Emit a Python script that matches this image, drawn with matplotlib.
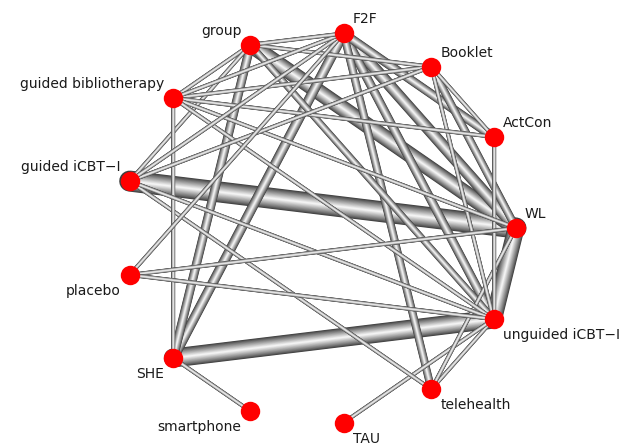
import numpy as np
import matplotlib
matplotlib.use('Agg')
import matplotlib.pyplot as plt

# trattamenti in ordine antiorario partendo da WL
treatments = ['WL', 'ActCon', 'Booklet', 'F2F', 'group', 'guided bibliotherapy',
              'guided iCBT\u2212I', 'placebo', 'SHE', 'smartphone', 'TAU',
              'telehealth', 'unguided iCBT\u2212I']

# confronti diretti: (trattamento 1, trattamento 2, spessore)
edge_from = ['guided iCBT\u2212I', 'SHE', 'WL', 'group', 'F2F', 'F2F', 'group',
             'F2F', 'F2F', 'Booklet', 'F2F', 'group',
             'F2F', 'F2F', 'F2F', 'F2F', 'group', 'group', 'group',
             'guided bibliotherapy', 'guided bibliotherapy', 'guided bibliotherapy',
             'guided bibliotherapy', 'guided bibliotherapy',
             'guided iCBT\u2212I', 'guided iCBT\u2212I', 'placebo', 'placebo',
             'ActCon', 'Booklet', 'Booklet', 'WL', 'unguided iCBT\u2212I',
             'unguided iCBT\u2212I', 'SHE', 'guided iCBT\u2212I']
edge_to = ['WL', 'unguided iCBT\u2212I', 'unguided iCBT\u2212I', 'WL', 'WL', 'SHE', 'SHE',
           'unguided iCBT\u2212I', 'ActCon', 'WL', 'telehealth', 'unguided iCBT\u2212I',
           'group', 'guided bibliotherapy', 'guided iCBT\u2212I', 'placebo',
           'guided bibliotherapy', 'guided iCBT\u2212I', 'Booklet',
           'Booklet', 'ActCon', 'WL', 'unguided iCBT\u2212I', 'SHE',
           'Booklet', 'unguided iCBT\u2212I', 'WL', 'unguided iCBT\u2212I',
           'unguided iCBT\u2212I', 'unguided iCBT\u2212I', 'ActCon', 'telehealth',
           'telehealth', 'TAU', 'smartphone', 'telehealth']
edge_w = [21, 19, 17, 16, 12, 10, 9,
          9, 9, 8, 8, 7,
          4, 4, 4, 4, 4, 4, 4,
          4, 4, 4, 4, 4,
          4, 4, 4, 4,
          4, 4, 4, 4, 4,
          4, 4, 4]

n = len(treatments)
ang = np.deg2rad(np.arange(n) * 360.0 / n)
pos = {t: (np.cos(a), np.sin(a)) for t, a in zip(treatments, ang)}

fig = plt.figure(figsize=(6.26, 4.47), dpi=100)
ax = fig.add_axes([0, 0, 1, 1])
ax.set_xlim(-320 / 196, (626 - 320) / 196)
ax.set_ylim(-(447 - 228) / 196, 228 / 196)
ax.axis('off')

px = 0.72  # pixel -> punti
order = np.argsort(edge_w)[::-1]
nstep = 14
for i in order:
    x1, y1 = pos[edge_from[i]]
    x2, y2 = pos[edge_to[i]]
    w = edge_w[i] * px
    for k in range(nstep):
        frac = k / nstep
        g = 0.25 + 0.75 * frac ** 0.9
        ax.plot([x1, x2], [y1, y2], color=(g, g, g), lw=w * (1 - frac),
                solid_capstyle='round' if k == 0 else 'butt', zorder=1)

for t in treatments:
    x, y = pos[t]
    ax.plot(x, y, 'o', color='red', markersize=14, markeredgewidth=0, zorder=3)
    dx = 9 if x > 0.05 else (-9 if x < -0.05 else 9)
    dy = 14 if y >= 0 else -16
    ha = 'left' if dx > 0 else 'right'
    ax.annotate(t, (x, y), xytext=(dx * px, dy * px), textcoords='offset points',
                ha=ha, va='center', fontsize=10, color='#1a1a1a', zorder=4)

fig.savefig('out.png', dpi=100)
